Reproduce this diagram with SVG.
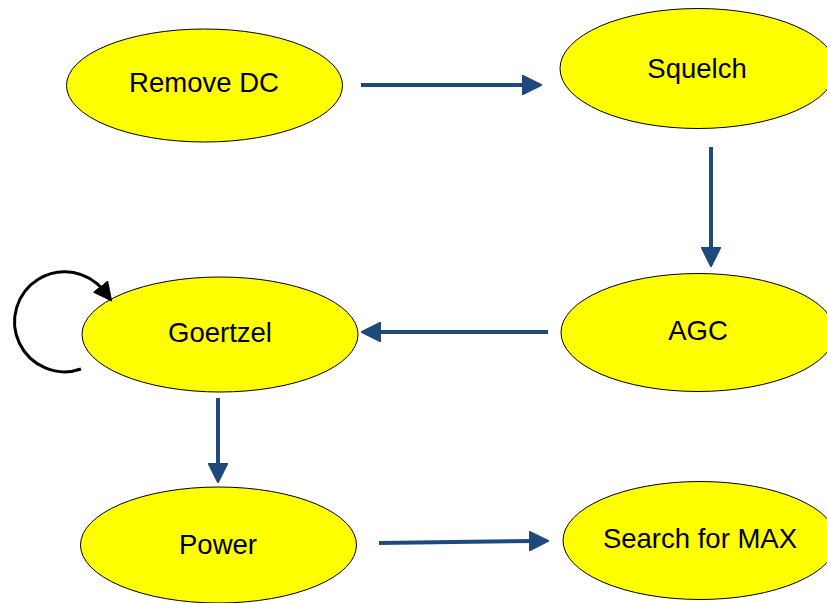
<svg xmlns="http://www.w3.org/2000/svg" width="827" height="603" viewBox="0 0 827 603">
<style>
.n ellipse{fill:#ffff00;stroke:#000;stroke-width:1}
.n text{font-family:"Liberation Sans",Arial,sans-serif;font-size:27.5px;fill:#000;text-anchor:middle}
.c{stroke:#1f497d;stroke-width:4;fill:none;marker-end:url(#ah)}
</style>
<defs>
<marker id="ah" markerWidth="5" markerHeight="5" refX="1.5" refY="2.5" orient="auto" markerUnits="strokeWidth" viewBox="0 0 5 5">
<path d="M0,0 L5,2.5 L0,5 Z" fill="#1f497d" stroke="#1f497d" stroke-width="0.3" stroke-linejoin="round"/>
</marker>
<marker id="bh" markerWidth="6.5" markerHeight="6.5" refX="2" refY="3.25" orient="auto" markerUnits="strokeWidth" viewBox="0 0 6.5 6.5">
<path d="M0,0 L6.5,3.25 L0,6.5 Z" fill="#000"/>
</marker>
</defs>
<g id="n1" class="n"><ellipse cx="204.5" cy="85.5" rx="138" ry="56.5"/><text x="204" y="92">Remove DC</text></g>
<g id="n2" class="n"><ellipse cx="698" cy="68.5" rx="138" ry="60"/><text x="697" y="78">Squelch</text></g>
<g id="n3" class="n"><ellipse cx="698" cy="332.5" rx="137" ry="59"/><text x="698" y="340">AGC</text></g>
<g id="n4" class="n"><ellipse cx="220" cy="334.5" rx="138" ry="57.5"/><text x="220" y="342">Goertzel</text></g>
<g id="n5" class="n"><ellipse cx="218.5" cy="545" rx="138" ry="58"/><text x="218" y="554">Power</text></g>
<g id="n6" class="n"><ellipse cx="700" cy="540.5" rx="137" ry="59"/><text x="700" y="548">Search for MAX</text></g>
<g id="connectors">
<path class="c" d="M361,85 L528,85"/>
<path class="c" d="M711,147 L711,253"/>
<path class="c" d="M548,332 L375,332"/>
<path class="c" d="M218,398 L218,469"/>
<path class="c" d="M379,543 L535,541"/>
<path d="M81,369 A50,50 0 1 1 104,291" stroke="#000" stroke-width="3" fill="none" marker-end="url(#bh)"/>
</g>
</svg>
